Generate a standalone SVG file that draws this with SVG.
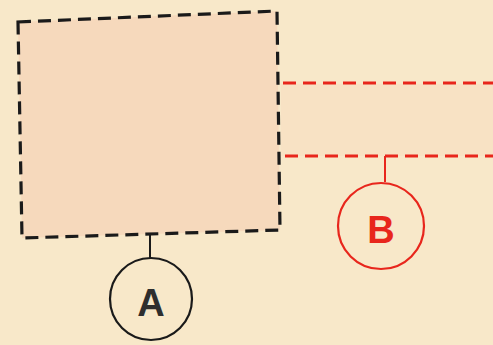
<svg xmlns="http://www.w3.org/2000/svg" width="493" height="345" viewBox="0 0 493 345">
  <style>
    .box { fill: #f6d9bc; stroke: #1a1a1a; stroke-width: 3.2; stroke-dasharray: 13 7; stroke-linejoin: miter; }
    .band { fill: #f7dcc0; opacity: 0.5; }
    .rline { stroke: #e8261c; stroke-width: 2.8; stroke-dasharray: 13 7; fill: none; }
    .tick-k { stroke: #1a1a1a; stroke-width: 2; }
    .tick-r { stroke: #e8261c; stroke-width: 2; }
    .circ-k { fill: none; stroke: #1a1a1a; stroke-width: 2.2; }
    .circ-r { fill: none; stroke: #e8261c; stroke-width: 2.2; }
    .lbl { font-family: "Liberation Sans", Arial, sans-serif; font-weight: bold; font-size: 38px; text-anchor: middle; }
  </style>
  <rect width="493" height="345" fill="#f8e8c9"/>
  <!-- shaded channel between the two red lines -->
  <rect class="band" x="281" y="84" width="212" height="72"/>
  <g id="zone">
    <path class="box" d="M18,22 L277,11 L280,230 L22,238 Z"/>
  </g>
  <g id="connectors">
    <line class="rline" x1="283" y1="83" x2="493" y2="83"/>
    <line class="rline" x1="285" y1="156" x2="493" y2="156"/>
    <line class="tick-k" x1="150" y1="234" x2="150" y2="258"/>
    <line class="tick-r" x1="385" y1="156" x2="385" y2="182"/>
  </g>
  <g id="node-A">
    <circle class="circ-k" cx="151" cy="299" r="41"/>
    <text class="lbl" x="151" y="316" fill="#2e2e2e">A</text>
  </g>
  <g id="node-B">
    <circle class="circ-r" cx="381" cy="226" r="43"/>
    <text class="lbl" x="381" y="243" fill="#e8261c">B</text>
  </g>
</svg>
